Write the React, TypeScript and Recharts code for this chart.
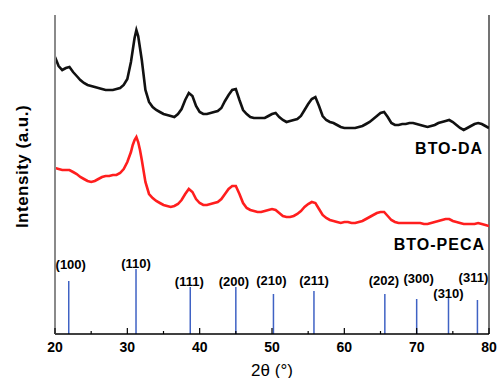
import { ComposedChart, Line, XAxis, YAxis, ReferenceLine, ReferenceDot } from 'recharts';

// 2θ sampling (extra points around the sharp (110) peak)
const THETA = [
  20, 20.5, 21, 21.5, 22, 22.5, 23, 23.5, 24, 24.5,
  25, 25.5, 26, 26.5, 27, 27.5, 28, 28.5, 29, 29.5,
  30, 30.5, 30.75, 31, 31.25, 31.5, 31.75, 32, 32.5, 33, 33.5, 34, 34.5,
  35, 35.5, 36, 36.5, 37, 37.5, 38, 38.5, 39, 39.5,
  40, 40.5, 41, 41.5, 42, 42.5, 43, 43.5, 44, 44.5,
  45, 45.5, 46, 46.5, 47, 47.5, 48, 48.5, 49, 49.5,
  50, 50.5, 51, 51.5, 52, 52.5, 53, 53.5, 54, 54.5,
  55, 55.5, 56, 56.5, 57, 57.5, 58, 58.5, 59, 59.5,
  60, 60.5, 61, 61.5, 62, 62.5, 63, 63.5, 64, 64.5,
  65, 65.5, 66, 66.5, 67, 67.5, 68, 68.5, 69, 69.5,
  70, 70.5, 71, 71.5, 72, 72.5, 73, 73.5, 74, 74.5,
  75, 75.5, 76, 76.5, 77, 77.5, 78, 78.5, 79, 79.5,
  80,
];

// BTO-DA (black), arbitrary units
const BTO_DA = [
  277, 268, 264, 266, 267, 262, 258, 254, 251, 249,
  248, 247, 246, 245, 244, 244, 244, 245, 246, 249,
  255, 272, 284, 296, 304, 298, 286, 274, 244, 232, 227, 224, 222,
  220, 219, 218, 217, 220, 225, 234, 241, 238, 228,
  222, 220, 220, 221, 222, 223, 226, 233, 239, 244,
  245, 234, 224, 220, 217, 216, 216, 216, 216, 218,
  220, 221, 217, 214, 212, 213, 214, 215, 218, 224,
  230, 235, 237, 228, 218, 214, 212, 211, 209, 207,
  206, 206, 206, 206, 207, 208, 210, 212, 215, 218,
  221, 222, 217, 211, 209, 209, 210, 210, 211, 211,
  210, 209, 208, 207, 208, 209, 211, 212, 213, 214,
  212, 209, 206, 204, 206, 208, 210, 211, 210, 208,
  206,
];

// BTO-PECA (red), arbitrary units
const BTO_PECA = [
  166, 165, 164, 164, 164, 162, 160, 157, 155, 153,
  152, 153, 155, 157, 158, 158, 159, 159, 161, 165,
  172, 182, 189, 194, 197, 192, 184, 174, 152, 140, 136, 133, 131,
  129, 128, 127, 128, 130, 134, 140, 145, 142, 135,
  131, 129, 129, 130, 131, 132, 135, 140, 145, 148,
  148, 140, 131, 126, 124, 123, 122, 122, 123, 124,
  125, 124, 121, 118, 117, 117, 118, 120, 123, 127,
  130, 132, 131, 125, 119, 116, 114, 113, 112, 111,
  112, 112, 111, 111, 112, 113, 115, 117, 119, 121,
  122, 122, 118, 114, 112, 111, 111, 111, 111, 111,
  111, 111, 110, 110, 111, 112, 113, 114, 115, 115,
  113, 112, 111, 110, 110, 110, 110, 111, 110, 109,
  108,
];

// reference pattern
const PEAK_HKL = ['(100)', '(110)', '(111)', '(200)', '(210)', '(211)', '(202)', '(300)', '(310)', '(311)'];
const PEAK_THETA = [21.9, 31.2, 38.7, 45.0, 50.2, 55.8, 65.6, 70.0, 74.4, 78.4];
const PEAK_HEIGHT = [53, 65, 47, 47, 40, 43, 40, 35, 36, 34];
// where each hkl label sits (same units as intensity)
const LABEL_LEVEL = [70, 71, 53, 53, 54, 54, 54, 56, 41, 57];
const LABEL_DX = [2, 0, -1, -2, -2, 0, -1, 2, 0, -4];

const X_TICKS = [20, 25, 30, 35, 40, 45, 50, 55, 60, 65, 70, 75, 80];

const FONT = '"Liberation Sans", Arial, sans-serif';

const rows = THETA.map((t, i) => ({ theta: t, da: BTO_DA[i], peca: BTO_PECA[i] }));

const BottomTick = (props: any) => {
  const { x, y, payload } = props;
  const major = payload.value % 10 === 0;
  return (
    <g>
      <line x1={x} x2={x} y1={y} y2={y - (major ? 6 : 3)} stroke="#000" strokeWidth={1.2} />
      {major && (
        <text x={x} y={y + 18} textAnchor="middle" fontFamily={FONT} fontSize={14} fontWeight="bold" fill="#000">
          {payload.value}
        </text>
      )}
    </g>
  );
};

const TopTick = (props: any) => {
  const { x, y } = props;
  return <line x1={x} x2={x} y1={y} y2={y + 5} stroke="#000" strokeWidth={1.2} />;
};

const textLabel = (text: string, anchor: 'start' | 'middle' | 'end', dx: number, size: number, weight: string, spacing = 0) =>
  (props: any) => {
    const vb = props.viewBox || {};
    return (
      <text
        x={vb.x + dx}
        y={vb.y}
        textAnchor={anchor}
        dominantBaseline="central"
        fontFamily={FONT}
        fontSize={size}
        fontWeight={weight}
        letterSpacing={spacing}
        fill="#000"
      >
        {text}
      </text>
    );
  };

export default function App() {
  return (
    <div style={{ position: 'absolute', left: 0, top: 0, background: '#fff' }}>
      <ComposedChart width={498} height={378} data={rows} margin={{ top: 15, right: 9, bottom: 14, left: 0 }}>
        <XAxis
          dataKey="theta"
          type="number"
          domain={[20, 80]}
          ticks={X_TICKS}
          interval={0}
          allowDataOverflow
          height={30}
          tickSize={0}
          tickMargin={0}
          tickLine={false}
          axisLine={{ stroke: '#000', strokeWidth: 1.5 }}
          tick={<BottomTick />}
          label={(p: any) => {
            const vb = p.viewBox || {};
            return (
              <text x={vb.x + vb.width / 2} y={vb.y + 36} textAnchor="middle" dominantBaseline="central" fontFamily={FONT} fontSize={17} fill="#000">
                2θ (°)
              </text>
            );
          }}
        />
        <XAxis
          xAxisId="top"
          dataKey="theta"
          type="number"
          orientation="top"
          domain={[20, 80]}
          ticks={X_TICKS}
          interval={0}
          allowDataOverflow
          height={0}
          tickSize={0}
          tickMargin={0}
          tickLine={false}
          axisLine={{ stroke: '#000', strokeWidth: 1.2 }}
          tick={<TopTick />}
        />
        <YAxis
          type="number"
          domain={[0, 319]}
          width={55}
          tick={false}
          tickLine={false}
          axisLine={{ stroke: '#8a8a8a', strokeWidth: 2 }}
          label={(p: any) => {
            const vb = p.viewBox || {};
            const cx = 22;
            const cy = vb.y + vb.height / 2 - 8;
            return (
              <text
                x={cx}
                y={cy}
                transform={`rotate(-90, ${cx}, ${cy})`}
                textAnchor="middle"
                dominantBaseline="central"
                fontFamily={FONT}
                fontSize={17}
                fontWeight="bold"
                letterSpacing={0.5}
                fill="#000"
              >
                Intensity (a.u.)
              </text>
            );
          }}
        />
        <ReferenceLine x={80} stroke="#444" strokeWidth={1.5} />

        {PEAK_THETA.map((t, i) => (
          <ReferenceLine
            key={`peak-${i}`}
            segment={[
              { x: t, y: PEAK_HEIGHT[i] },
              { x: t, y: 0 },
            ]}
            stroke="#3f62c4"
            strokeWidth={1.5}
          />
        ))}
        {PEAK_THETA.map((t, i) => (
          <ReferenceDot
            key={`hkl-${i}`}
            x={t}
            y={LABEL_LEVEL[i]}
            r={0}
            fill="none"
            stroke="none"
            label={textLabel(PEAK_HKL[i], 'middle', LABEL_DX[i], 13, 'bold')}
          />
        ))}

        <Line type="linear" dataKey="da" stroke="#111" strokeWidth={2.6} dot={false} isAnimationActive={false} />
        <Line type="linear" dataKey="peca" stroke="#ff1e1e" strokeWidth={2.6} dot={false} isAnimationActive={false} />

        <ReferenceDot x={80} y={186} r={0} fill="none" stroke="none" label={textLabel('BTO-DA', 'end', -6, 16, 'bold', 1)} />
        <ReferenceDot x={80} y={90} r={0} fill="none" stroke="none" label={textLabel('BTO-PECA', 'end', -4, 16, 'bold', 1)} />
      </ComposedChart>
    </div>
  );
}
